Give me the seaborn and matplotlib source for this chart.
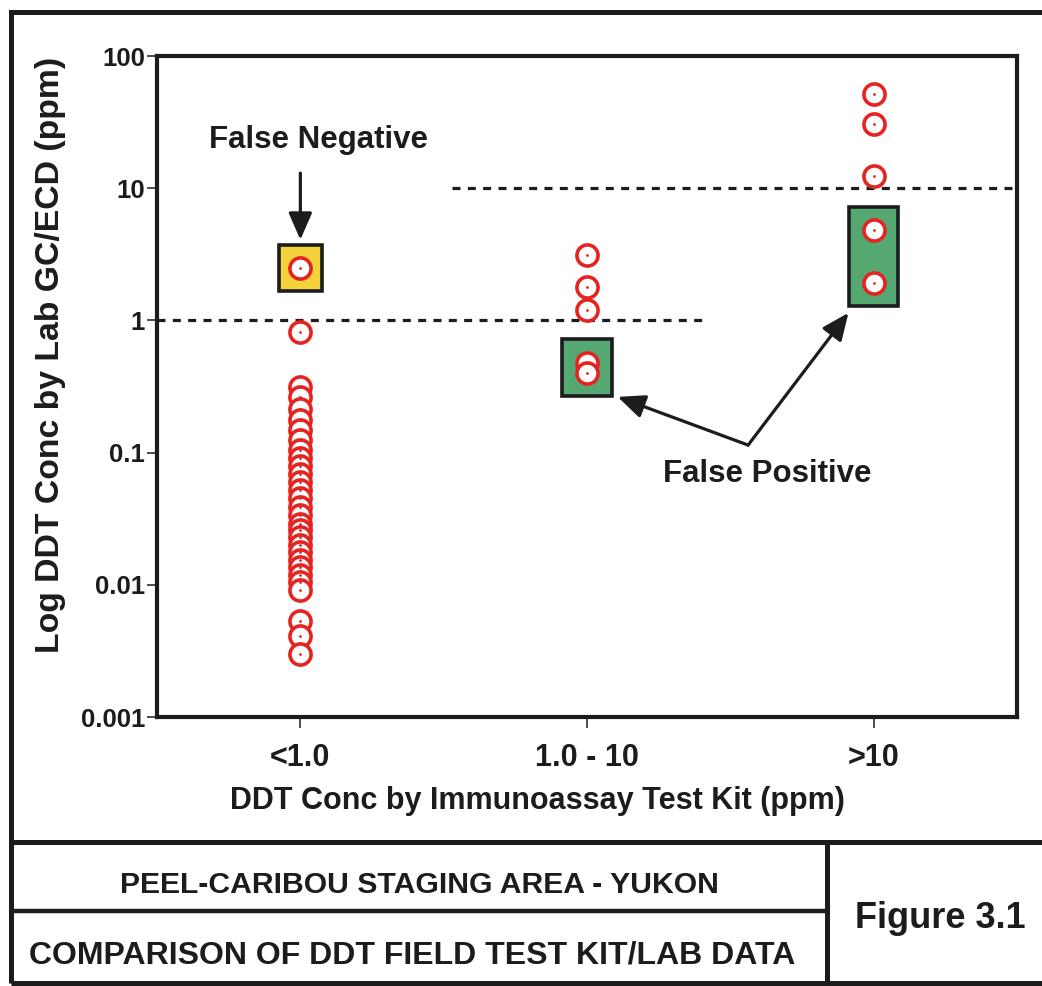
import numpy as np
import pandas as pd
import matplotlib
matplotlib.use("Agg")
import matplotlib.pyplot as plt
from matplotlib.patches import Rectangle
from matplotlib.lines import Line2D
from matplotlib.ticker import NullLocator
import seaborn as sns

# ---------------- data ----------------
categories = ["<1.0", "1.0 - 10", ">10"]
lab_lt1 = [2.49, 0.82, 0.313, 0.264, 0.214, 0.177, 0.148, 0.125, 0.105, 0.091,
           0.079, 0.069, 0.060, 0.052, 0.045, 0.039, 0.034, 0.029, 0.026, 0.023,
           0.020, 0.0177, 0.0154, 0.0136, 0.0119, 0.0105, 0.0091, 0.0053, 0.0041,
           0.0030]
lab_1to10 = [3.13, 1.79, 1.20, 0.48, 0.40]
lab_gt10 = [51.6, 30.6, 12.4, 4.83, 1.92]
kit_lower = [0.0, 1.0, 10.0]
kit_upper = [1.0, 10.0, np.inf]
threshold_values = [1.0, 10.0]
y_ticks = [0.001, 0.01, 0.1, 1, 10, 100]
y_tick_labels = ["0.001", "0.01", "0.1", "1", "10", "100"]

groups = [lab_lt1, lab_1to10, lab_gt10]
df = pd.DataFrame({
    "kit": np.repeat(categories, [len(g) for g in groups]),
    "lab": lab_lt1 + lab_1to10 + lab_gt10,
})

# ---------------- style ----------------
sns.set_theme(style="white")
plt.rcParams["font.family"] = ["Liberation Sans", "DejaVu Sans"]
plt.rcParams["font.weight"] = "bold"
INK = "#1c1c1c"
RED = "#e52421"
YELLOW = "#f3d23b"
GREEN = "#55a872"

fig = plt.figure(figsize=(10.42, 9.86), dpi=100)
fig.patch.set_facecolor("white")
ax = fig.add_axes([0.1507, 0.2728, 0.8253, 0.6704])
ax.set_yscale("log")

# flagged-sample boxes (false negative / false positive)
fn_top = None
for i, vals in enumerate(groups):
    v = np.asarray(vals)
    fn = v[v >= kit_upper[i]]
    fp = v[v < kit_lower[i]]
    for sel, face, hw in [(fn, YELLOW, 0.075), (fp, GREEN, 0.086)]:
        if len(sel):
            lo, hi = sel.min() / 1.5, sel.max() * 1.5
            ax.add_patch(Rectangle((i - hw, lo), 2 * hw, hi - lo, facecolor=face,
                                   edgecolor=INK, linewidth=2.6, zorder=1))
            if face == YELLOW:
                fn_top = hi

# threshold dashed lines
ax.plot([-0.5, 1.42], [threshold_values[0]] * 2, color=INK, lw=2.3,
        linestyle=(0, (2.5, 2.3)), zorder=2)
ax.plot([0.53, 2.5], [threshold_values[1]] * 2, color=INK, lw=2.3,
        linestyle=(0, (2.5, 2.3)), zorder=2)

# points
sns.stripplot(data=df, x="kit", y="lab", order=categories, jitter=False,
              size=15.2, color="white", edgecolor=RED, linewidth=2.6,
              ax=ax, zorder=3)
sns.stripplot(data=df, x="kit", y="lab", order=categories, jitter=False,
              size=2.0, color=RED, linewidth=0, ax=ax, zorder=4)

ax.set_xlim(-0.5, 2.5)
ax.set_ylim(0.001, 100)
ax.set_yticks(y_ticks, y_tick_labels)
ax.yaxis.set_minor_locator(NullLocator())
ax.tick_params(axis="y", which="major", left=True, length=7.2, width=1.1,
               pad=1.5, labelsize=18.5, colors=INK)
ax.tick_params(axis="x", which="major", bottom=True, length=8, width=1.1,
               pad=11, labelsize=22, colors=INK)
for lab in ax.get_xticklabels() + ax.get_yticklabels():
    lab.set_fontweight("bold")
for sp in ax.spines.values():
    sp.set_linewidth(3)
    sp.set_color(INK)

ax.set_xlabel("DDT Conc by Immunoassay Test Kit (ppm)", fontsize=22,
              fontweight="bold", color=INK)
ax.set_ylabel("Log DDT Conc by Lab GC/ECD (ppm)", fontsize=24.3,
              fontweight="bold", color=INK)
ax.xaxis.set_label_coords(0.442, -0.104)
ax.yaxis.set_label_coords(-0.106, 0.548)

# annotations
arrow = dict(arrowstyle="-|>,head_length=0.55,head_width=0.24", mutation_scale=30,
             lw=2.3, color=INK, shrinkA=0, shrinkB=0)
ax.annotate("", xy=(0, fn_top * 1.09), xytext=(0, 13.0), arrowprops=arrow, zorder=5)
ax.text(0.063, 20.1, "False Negative", ha="center", va="baseline", fontsize=22.5,
        fontweight="bold", color=INK)
ax.annotate("", xy=(1.107, 0.264), xytext=(1.562, 0.114), arrowprops=arrow, zorder=5)
ax.annotate("", xy=(1.912, 1.14), xytext=(1.562, 0.114), arrowprops=arrow, zorder=5)
ax.text(1.629, 0.060, "False Positive", ha="center", va="baseline", fontsize=22.5,
        fontweight="bold", color=INK)

# title block / frame
fig.add_artist(Rectangle((0.0106, 0.003), 1.2, 0.985, fill=False, lw=3.6,
                         edgecolor=INK, transform=fig.transFigure))
fig.add_artist(Line2D([0.0106, 1.0], [0.146, 0.146], lw=3.6, color=INK,
                      transform=fig.transFigure))
fig.add_artist(Line2D([0.7937, 0.7937], [0.003, 0.146], lw=3.6, color=INK,
                      transform=fig.transFigure))
fig.add_artist(Line2D([0.0106, 0.7937], [0.0761, 0.0761], lw=3.2, color=INK,
                      transform=fig.transFigure))
fig.text(0.403, 0.0943, "PEEL-CARIBOU STAGING AREA - YUKON", ha="center",
         va="baseline", fontsize=21.7, fontweight="bold", color=INK)
fig.text(0.3954, 0.0233, "COMPARISON OF DDT FIELD TEST KIT/LAB DATA", ha="center",
         va="baseline", fontsize=23, fontweight="bold", color=INK)
fig.text(0.902, 0.0588, "Figure 3.1", ha="center", va="baseline", fontsize=26,
         fontweight="bold", color=INK)

fig.savefig("out.png", dpi=100)
